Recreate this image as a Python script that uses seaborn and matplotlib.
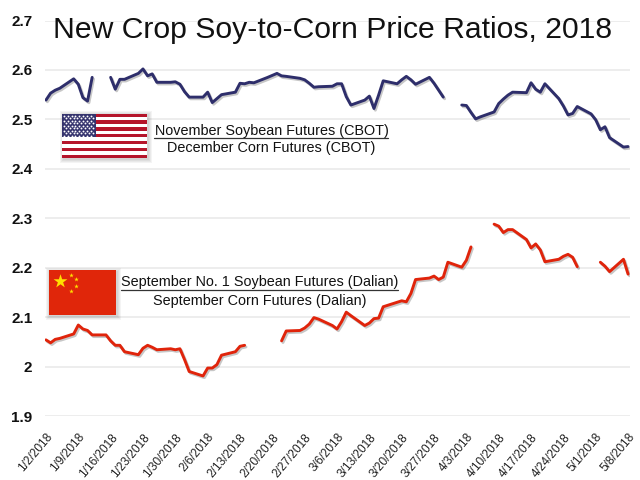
import pandas as pd
import matplotlib.pyplot as plt
import matplotlib.patheffects as pe
from matplotlib.patches import Rectangle
import seaborn as sns

sns.set_style('white')
plt.rcParams['font.family'] = ['Liberation Sans', 'DejaVu Sans']

tick_dates = ['1/2/2018', '1/9/2018', '1/16/2018', '1/23/2018', '1/30/2018', '2/6/2018', '2/13/2018',
              '2/20/2018', '2/27/2018', '3/6/2018', '3/13/2018', '3/20/2018', '3/27/2018', '4/3/2018',
              '4/10/2018', '4/17/2018', '4/24/2018', '5/1/2018', '5/8/2018']
y_ticks = [1.9, 2, 2.1, 2.2, 2.3, 2.4, 2.5, 2.6, 2.7]
y_labels = ['1.9', '2', '2.1', '2.2', '2.3', '2.4', '2.5', '2.6', '2.7']

# weekdays from 1/2 to 5/8, None where the line has a gap
us_ratio = [2.539, 2.553, 2.559, 2.563,
            2.582, 2.571, 2.544, 2.537, 2.585,
            None, 2.585, 2.561, 2.581, 2.581,
            2.593, 2.602, 2.588, 2.592, 2.575,
            2.575, 2.576, 2.571, 2.556, 2.545,
            2.545, 2.555, 2.534, 2.542, 2.550,
            2.555, 2.573, 2.572, 2.575, 2.574,
            2.585, 2.589, 2.593, 2.588, 2.587,
            2.583, 2.580, 2.573, 2.565, 2.566,
            2.567, 2.572, 2.572, 2.546, 2.529,
            2.539, 2.547, 2.522, 2.549, 2.578,
            2.572, 2.580, 2.587, 2.580, 2.571,
            2.585, 2.573, 2.559, 2.545, None,
            2.529, 2.528, 2.514, 2.501, 2.505,
            2.515, 2.532, 2.541, 2.549, 2.555,
            2.554, 2.574, 2.561, 2.555, 2.572,
            2.542, 2.527, 2.509, 2.512, 2.526,
            2.511, 2.499, 2.479, 2.485, 2.463,
            2.444, 2.445]
china_ratio = [2.054, 2.048, 2.055, 2.057,
               2.066, 2.084, 2.076, 2.073, 2.064,
               2.064, 2.052, 2.043, 2.043, 2.030,
               2.024, 2.037, 2.043, 2.039, 2.034,
               2.036, 2.034, 2.036, 2.014, 1.990,
               1.981, 1.997, 1.997, 2.004, 2.023,
               2.030, 2.041, 2.043, None, None,
               None, None, None, 2.052, 2.072,
               2.073, 2.078, 2.086, 2.099, 2.096,
               2.083, 2.076, 2.091, 2.110, 2.103,
               2.083, 2.088, 2.097, 2.098, 2.121,
               2.130, 2.133, 2.131, 2.148, 2.176,
               2.179, 2.183, 2.176, 2.181, 2.211,
               2.201, 2.215, 2.242, None, None,
               2.288, 2.284, 2.271, 2.277, 2.277,
               2.257, 2.240, 2.248, 2.236, 2.212,
               2.217, 2.223, 2.227, 2.221, 2.202,
               None, None, 2.211, 2.203, 2.192,
               2.217, 2.187]

dates = pd.bdate_range('2018-01-02', '2018-05-08')
data = pd.DataFrame({'date': dates, 'us': us_ratio, 'china': china_ratio})

W, H = 640, 480
fig = plt.figure(figsize=(W / 100, H / 100), dpi=100)
ax = fig.add_axes([45 / W, 1 - 416 / H, 585 / W, (416 - 20.5) / H])


def draw_line(col, color):
    # one unit per unbroken stretch, so the gaps stay open
    df = data.assign(seg=data[col].isna().cumsum()).dropna(subset=[col])
    sns.lineplot(x='date', y=col, data=df, units='seg', estimator=None, color=color, lw=2.1, ax=ax,
                 path_effects=[pe.SimpleLineShadow(offset=(1, -1.2), alpha=0.22), pe.Normal()])


ax.grid(axis='y', color='#e8e8e8', lw=1.1)
ax.set_axisbelow(True)
draw_line('us', '#2e2e6b')
draw_line('china', '#e0240b')

ax.set_xlim(pd.Timestamp('2018-01-02') - pd.Timedelta(hours=5), pd.Timestamp('2018-05-08') + pd.Timedelta(hours=10))
ax.set_ylim(1.9, 2.7)
ax.set_yticks(y_ticks)
ax.set_yticklabels(y_labels, fontsize=11, fontweight='bold', color='#111111')
ax.set_xticks(pd.to_datetime(tick_dates, format='%m/%d/%Y'))
ax.set_xticklabels(tick_dates, rotation=50, ha='right', rotation_mode='anchor', fontsize=8.6, color='#222222')
ax.tick_params(axis='x', length=0, pad=11)
ax.tick_params(axis='y', length=0, pad=9)
ax.set_xlabel('')
ax.set_ylabel('')
sns.despine(ax=ax, left=True, bottom=True, top=True, right=True)

# overlay in pixel coordinates for the flags and captions
ov = fig.add_axes([0, 0, 1, 1], facecolor='none')
ov.set_xlim(0, W)
ov.set_ylim(H, 0)
ov.axis('off')

ov.text(333, 30, 'New Crop Soy-to-Corn Price Ratios, 2018', fontsize=21.7, ha='center', va='center', color='#111111')


def flag_shadow(fx, fy, fw, fh):
    # soft grey edge, a few stacked translucent boxes
    for grow in [3.5, 2.5, 1.5, 0.5]:
        ov.add_patch(Rectangle((fx - grow + 1, fy - grow + 1), fw + 2 * grow, fh + 2 * grow,
                               color='black', alpha=0.045, lw=0))


# US flag
fx, fy, fw, fh = 62, 113.5, 85, 44.5
flag_shadow(fx, fy, fw, fh)
ov.add_patch(Rectangle((fx, fy), fw, fh, color='white', lw=0))
for i in range(0, 13, 2):
    ov.add_patch(Rectangle((fx, fy + i * fh / 13), fw, fh / 13, color='#b5152b', lw=0))
ov.add_patch(Rectangle((fx, fy), 33.5, fh * 7 / 13, color='#35346e', lw=0))
star_x = [fx + 2 + 3.8 * i for i in range(8)]
star_y = [fy + 2 + 2.5 * j for j in range(9)]
for j, sy in enumerate(star_y):
    ov.scatter([sx + 1.9 * (j % 2) for sx in star_x], [sy] * 8, s=1.8, color='white', lw=0, zorder=3)

# China flag
fx, fy, fw, fh = 48.5, 270, 67.5, 45
flag_shadow(fx, fy, fw, fh)
ov.add_patch(Rectangle((fx, fy), fw, fh, color='#e0260a', lw=0))
ov.scatter([59.5], [281], marker='*', s=110, color='#ffe000', lw=0, zorder=3)
ov.scatter([71, 76, 75.5, 71], [274.5, 279, 285.5, 290.5], marker='*', s=12, color='#ffe000', lw=0, zorder=3)

# captions, numerator over denominator
ov.text(271.5, 130.5, 'November Soybean Futures (CBOT)', fontsize=10.35, ha='center', va='center', color='#111111')
ov.plot([154, 388], [138, 138], color='#333333', lw=0.9)
ov.text(271.5, 148, 'December Corn Futures (CBOT)', fontsize=10.35, ha='center', va='center', color='#111111')

ov.text(260, 282, 'September No. 1 Soybean Futures (Dalian)', fontsize=10.35, ha='center', va='center', color='#111111')
ov.plot([121, 398], [289.5, 289.5], color='#333333', lw=0.9)
ov.text(260, 300.5, 'September Corn Futures (Dalian)', fontsize=10.35, ha='center', va='center', color='#111111')

plt.savefig('out.png', dpi=100)
